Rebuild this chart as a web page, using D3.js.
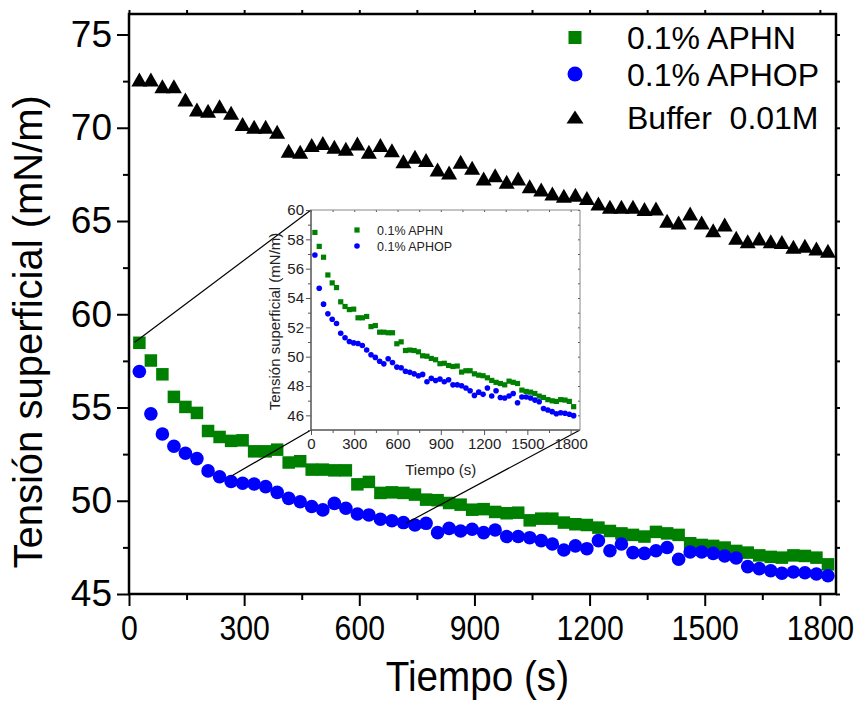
<!DOCTYPE html>
<html>
<head>
<meta charset="utf-8">
<script src="https://cdn.jsdelivr.net/npm/d3@7"></script>
<style>
body { margin: 0; background: #fff; }
text { font-family: "Liberation Sans", Arial, sans-serif; }
</style>
</head>
<body>
<svg id="chart"></svg>
<script>
// time (s)
var times = [27,57,87,117,147,177,206,236,266,296,326,356,386,416,446,476,505,535,565,595,
  625,655,685,715,745,774,804,834,864,894,924,954,984,1014,1044,1074,1103,1133,1163,1193,
  1223,1253,1283,1313,1343,1373,1402,1432,1462,1492,1522,1552,1582,1612,1642,1672,1701,1731,1761,1791,1821];

// surface tension (mN/m)
var aphn = [58.47,57.52,56.78,55.57,55.03,54.71,53.74,53.42,53.21,53.24,52.65,52.65,52.74,52.05,52.12,
  51.67,51.67,51.63,51.63,50.88,51.01,50.42,50.45,50.42,50.33,50.06,50.03,49.88,49.79,49.52,49.55,
  49.40,49.33,49.36,48.95,49.04,49.04,48.83,48.74,48.70,48.56,48.38,48.25,48.17,48.08,48.33,
  48.25,48.17,47.72,47.63,47.58,47.49,47.31,47.22,47.07,46.99,46.95,47.07,47.04,46.95,46.59];
var aphop = [56.93,54.66,53.58,52.92,52.55,52.26,51.60,51.29,51.03,50.94,50.90,50.76,50.45,50.13,49.95,
  49.69,49.51,49.86,49.60,49.29,49.24,49.01,48.93,48.83,48.70,48.79,48.29,48.52,48.38,48.47,48.29,
  48.43,48.08,48.08,48.02,47.86,47.68,47.36,47.58,47.43,47.86,47.32,47.68,47.22,47.18,47.32,
  47.49,46.86,47.25,47.25,47.18,47.04,46.93,46.47,46.36,46.25,46.11,46.18,46.14,46.07,45.98];
var buffer = [72.59,72.59,72.22,72.22,71.52,70.98,70.91,71.16,70.80,70.20,70.05,70.05,69.79,68.77,68.71,
  69.07,69.18,68.98,68.87,69.16,68.71,69.07,68.80,68.21,68.44,68.27,67.76,67.60,68.18,67.85,67.28,
  67.46,67.10,67.28,66.87,66.69,66.48,66.35,66.41,66.23,65.94,65.76,65.76,65.76,65.65,65.67,
  65.01,64.92,65.40,64.92,64.51,64.81,64.10,63.92,64.06,63.92,63.88,63.62,63.67,63.53,63.40];

var xTicks = [0,300,600,900,1200,1500,1800];
var xMinor = [150,450,750,1050,1350,1650];
var yTicks = [45,50,55,60,65,70,75];
var yMinor = [47.5,52.5,57.5,62.5,67.5,72.5];
var insetYTicks = [46,48,50,52,54,56,58,60];
var insetYMinor = [45,47,49,51,53,55,57,59];

var seriesNames = ["0.1% APHN", "0.1% APHOP", "Buffer  0.01M"];
// main-chart points that the inset corners point back to
var zoomAnchors = [{t: 15, v: 58.5}, {t: 267, v: 51.33}, {t: 723, v: 48.81}];

var margin = {top: 14, right: 27, bottom: 119, left: 129},
    width = 863 - margin.left - margin.right,
    height = 713 - margin.top - margin.bottom;

var svg = d3.select("#chart")
  .attr("width", 863)
  .attr("height", 713);

var g = svg.append("g")
  .attr("transform", "translate(" + margin.left + "," + margin.top + ")");

var x = d3.scaleLinear().domain([0, 1842]).range([0, width]);
var y = d3.scaleLinear().domain([45, 76.1]).range([height, 0]);
var fmt = d3.format("d");

function tri(w, h) {
  return "M0," + (-h / 2) + "L" + (w / 2) + "," + (h / 2) + "L" + (-w / 2) + "," + (h / 2) + "Z";
}

// axes
var xAxis = g.append("g")
  .attr("transform", "translate(0," + height + ")")
  .call(d3.axisBottom(x).tickValues(xTicks).tickFormat(fmt).tickSize(12).tickSizeOuter(0).tickPadding(8));
xAxis.selectAll(".tick text").style("font-size", "36px").attr("transform", "scale(0.84,1)");
g.append("g")
  .attr("transform", "translate(0," + height + ")")
  .call(d3.axisBottom(x).tickValues(xMinor).tickSize(6).tickFormat(""));

var yAxis = g.append("g")
  .call(d3.axisLeft(y).tickValues(yTicks).tickSize(12).tickSizeOuter(0).tickPadding(5));
yAxis.selectAll(".tick text").style("font-size", "37px");
g.append("g")
  .call(d3.axisLeft(y).tickValues(yMinor).tickSize(6).tickFormat(""));

g.append("g").call(d3.axisTop(x).tickValues(xTicks.concat(xMinor)).tickSize(4).tickFormat(""));
g.append("g").attr("transform", "translate(" + width + ",0)")
  .call(d3.axisRight(y).tickValues(yTicks.concat(yMinor)).tickSize(4).tickFormat(""));

g.selectAll(".domain").remove();
g.selectAll(".tick line").style("stroke", "#000").style("stroke-width", 2);

g.append("rect")
  .attr("width", width).attr("height", height)
  .style("fill", "none").style("stroke", "#000").style("stroke-width", 2.5);

// axis titles
svg.append("text")
  .attr("transform", "translate(" + (margin.left + x(900) + 3) + ",691) scale(0.92,1)")
  .attr("text-anchor", "middle")
  .style("font-size", "42px")
  .text("Tiempo (s)");
svg.append("text")
  .attr("transform", "translate(42," + (margin.top + y(59.06)) + ") rotate(-90)")
  .attr("text-anchor", "middle")
  .style("font-size", "40px")
  .text("Tensión superficial (mN/m)");

// main data
g.append("g").selectAll("path")
  .data(buffer).enter().append("path")
  .attr("d", tri(16, 14))
  .attr("transform", function (d, i) { return "translate(" + x(times[i]) + "," + y(d) + ")"; })
  .style("fill", "#000");

g.append("g").selectAll("rect")
  .data(aphn).enter().append("rect")
  .attr("x", function (d, i) { return x(times[i]) - 6.25; })
  .attr("y", function (d) { return y(d) - 6.25; })
  .attr("width", 12.5).attr("height", 12.5)
  .style("fill", "#008000");

g.append("g").selectAll("circle")
  .data(aphop).enter().append("circle")
  .attr("cx", function (d, i) { return x(times[i]); })
  .attr("cy", function (d) { return y(d); })
  .attr("r", 6.8)
  .style("fill", "#0000ff");

// legend
var legend = svg.append("g").attr("transform", "translate(575,0)");
legend.append("rect").attr("x", -6.5).attr("y", 31).attr("width", 13).attr("height", 13).style("fill", "#008000");
legend.append("circle").attr("cx", 0).attr("cy", 74).attr("r", 7.5).style("fill", "#0000ff");
legend.append("path").attr("d", tri(17, 13)).attr("transform", "translate(0,117)").style("fill", "#000");
legend.selectAll("text")
  .data(seriesNames).enter().append("text")
  .attr("x", 52)
  .attr("y", function (d, i) { return [37, 74, 117][i]; })
  .attr("dy", "0.36em")
  .style("font-size", "32px")
  .style("white-space", "pre")
  .text(function (d) { return d; });

// inset
var ix0 = 311, iy0 = 210, iw = 269, ih = 220;
var ix = d3.scaleLinear().domain([0, 1865]).range([0, iw]);
var iy = d3.scaleLinear().domain([45, 60]).range([ih, 0]);

// connector lines from main points to inset corners
var corners = [[ix0, iy0], [ix0, iy0 + ih], [ix0 + iw, iy0 + ih]];
svg.append("g").selectAll("line")
  .data(zoomAnchors).enter().append("line")
  .attr("x1", function (d) { return margin.left + x(d.t); })
  .attr("y1", function (d) { return margin.top + y(d.v); })
  .attr("x2", function (d, i) { return corners[i][0]; })
  .attr("y2", function (d, i) { return corners[i][1]; })
  .style("stroke", "#000").style("stroke-width", 1.2);

var ins = svg.append("g").attr("transform", "translate(" + ix0 + "," + iy0 + ")");
ins.append("rect").attr("width", iw).attr("height", ih).style("fill", "#fff");

var ixAxis = ins.append("g").attr("transform", "translate(0," + ih + ")")
  .call(d3.axisBottom(ix).tickValues(xTicks).tickFormat(fmt).tickSize(5).tickSizeOuter(0).tickPadding(3));
ixAxis.selectAll(".tick text").style("font-size", "15px");
ins.append("g").attr("transform", "translate(0," + ih + ")")
  .call(d3.axisBottom(ix).tickValues(xMinor).tickSize(3).tickFormat(""));
var iyAxis = ins.append("g")
  .call(d3.axisLeft(iy).tickValues(insetYTicks).tickSize(5).tickSizeOuter(0).tickPadding(2));
iyAxis.selectAll(".tick text").style("font-size", "15px");
ins.append("g").call(d3.axisLeft(iy).tickValues(insetYMinor).tickSize(3).tickFormat(""));
ins.append("g").call(d3.axisBottom(ix).tickValues(xTicks.concat(xMinor)).tickSize(2).tickFormat(""));
ins.append("g").attr("transform", "translate(" + iw + ",0)")
  .call(d3.axisLeft(iy).tickValues(insetYTicks.concat(insetYMinor)).tickSize(2).tickFormat(""));
ins.selectAll(".domain").remove();
ins.selectAll(".tick line").style("stroke", "#555").style("stroke-width", 1);
ins.selectAll(".tick text").style("fill", "#222");

ins.append("path")
  .attr("d", "M0,0V" + ih + "H" + iw)
  .style("fill", "none").style("stroke", "#555").style("stroke-width", 1.5);
ins.append("path")
  .attr("d", "M0,0H" + iw + "V" + ih)
  .style("fill", "none").style("stroke", "#888").style("stroke-width", 1);

ins.append("g").selectAll("rect")
  .data(aphn).enter().append("rect")
  .attr("x", function (d, i) { return ix(times[i]) - 2.6; })
  .attr("y", function (d) { return iy(d) - 2.6; })
  .attr("width", 5.2).attr("height", 5.2)
  .style("fill", "#008000");
ins.append("g").selectAll("circle")
  .data(aphop).enter().append("circle")
  .attr("cx", function (d, i) { return ix(times[i]); })
  .attr("cy", function (d) { return iy(d); })
  .attr("r", 2.8)
  .style("fill", "#0000ff");

var ileg = ins.append("g").attr("transform", "translate(46,0)");
ileg.append("rect").attr("x", -2.6).attr("y", 17.4).attr("width", 5.2).attr("height", 5.2).style("fill", "#008000");
ileg.append("circle").attr("cx", 0).attr("cy", 36).attr("r", 2.8).style("fill", "#0000ff");
ileg.selectAll("text")
  .data(seriesNames.slice(0, 2)).enter().append("text")
  .attr("x", 20)
  .attr("y", function (d, i) { return [20, 36][i]; })
  .attr("dy", "0.36em")
  .style("font-size", "12.5px")
  .style("fill", "#222")
  .text(function (d) { return d; });

ins.append("text")
  .attr("x", ix(900)).attr("y", ih + 45)
  .attr("text-anchor", "middle")
  .style("font-size", "15px").style("fill", "#222")
  .text("Tiempo (s)");
ins.append("text")
  .attr("transform", "translate(-31," + iy(52.4) + ") rotate(-90)")
  .attr("text-anchor", "middle")
  .style("font-size", "15px").style("fill", "#222")
  .text("Tensión superficial (mN/m)");
</script>
</body>
</html>
